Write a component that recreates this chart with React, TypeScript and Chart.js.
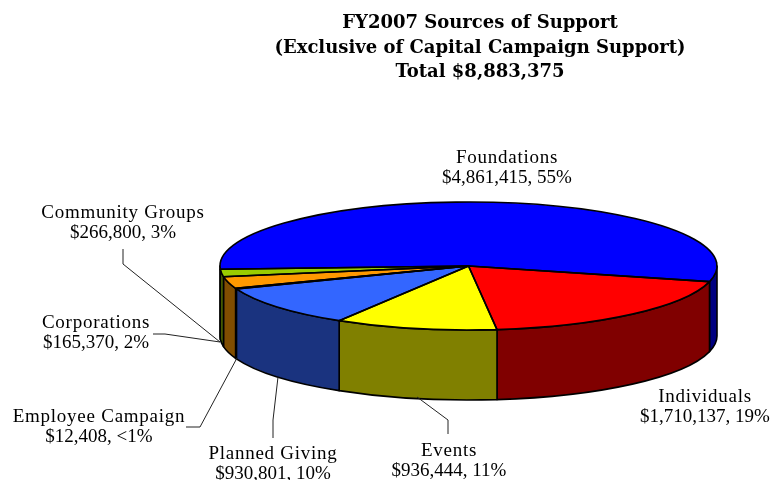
import React, { useEffect, useRef } from "react";
import { Chart, registerables } from "chart.js";

Chart.register(...registerables);

const titleLines = [
  "FY2007 Sources of Support",
  "(Exclusive of Capital Campaign Support)",
  "Total $8,883,375",
];
const categories = [
  "Foundations",
  "Individuals",
  "Events",
  "Planned Giving",
  "Employee Campaign",
  "Community Groups",
  "Corporations",
];
const amounts = [4861415, 1710137, 936444, 930801, 12408, 266800, 165370];
const percentLabels = ["55%", "19%", "11%", "10%", "<1%", "3%", "2%"];
const topColors = ["#0000ff", "#ff0000", "#ffff00", "#3366ff", "#666699", "#ff9900", "#99cc00"];
const wallColors = ["#000080", "#800000", "#808000", "#1a337f", "#33334d", "#804d00", "#4d6600"];

// Layout of the label text: centre x, baseline y of first line
const labelAnchors: [number, number][] = [
  [507, 163],
  [705, 402],
  [449, 456],
  [273, 459],
  [99, 422],
  [123, 218],
  [96, 328],
];
// Leader lines (null: no leader)
const leaders: ([number, number][] | null)[] = [
  null,
  null,
  [[417, 397], [448, 420], [448, 434]],
  [[278, 377], [273, 420], [273, 438]],
  [[237, 358], [200, 427], [186, 427]],
  [[220, 342], [123, 264], [123, 249]],
  [[220, 342], [165, 334], [153, 334]],
];

const CX = 468.5;
const CY = 266;
const RX = 248.5;
const RY = 64;
const DEPTH = 70;
const TITLE_FONT = '"DejaVu Serif", serif';
const LABEL_FONT = '"Liberation Serif", serif';

const pie3d = {
  id: "pie3d",
  beforeDatasetsDraw(chart: any) {
    const { ctx } = chart;
    const arcs = chart.getDatasetMeta(0).data;
    const sy = RY / RX;
    const norm = (a: number) => {
      const t = Math.PI * 2;
      return ((a % t) + t) % t;
    };
    const walls: { a: number; b: number; i: number }[] = [];
    arcs.forEach((arc: any, i: number) => {
      const a = norm(arc.startAngle);
      const b = a + (arc.endAngle - arc.startAngle);
      const pieces = [
        [a, b],
        [a - Math.PI * 2, b - Math.PI * 2],
      ];
      pieces.forEach(([p, q]) => {
        const s = Math.max(p, 0);
        const e = Math.min(q, Math.PI);
        if (e > s) walls.push({ a: s, b: e, i });
      });
    });
    ctx.save();
    ctx.lineJoin = "round";
    walls.forEach(({ a, b, i }) => {
      const arc = arcs[i];
      const R = arc.outerRadius;
      ctx.beginPath();
      ctx.ellipse(arc.x, arc.y, R, R * sy, 0, a, b, false);
      ctx.lineTo(arc.x + R * Math.cos(b), arc.y + R * sy * Math.sin(b) + DEPTH);
      ctx.ellipse(arc.x, arc.y + DEPTH, R, R * sy, 0, b, a, true);
      ctx.closePath();
      ctx.fillStyle = wallColors[i];
      ctx.fill();
      ctx.strokeStyle = "#000";
      ctx.lineWidth = 1.6;
      ctx.stroke();
    });
    ctx.restore();
    ctx.save();
    ctx.translate(CX, CY);
    ctx.scale(1, sy);
    ctx.translate(-CX, -CY);
  },
  afterDatasetsDraw(chart: any) {
    const { ctx } = chart;
    ctx.restore();
    const arcs = chart.getDatasetMeta(0).data;
    const sy = RY / RX;
    ctx.save();
    ctx.strokeStyle = "#000";
    ctx.lineWidth = 1.6;
    ctx.lineJoin = "round";
    arcs.forEach((arc: any) => {
      const R = arc.outerRadius;
      ctx.beginPath();
      ctx.moveTo(arc.x, arc.y);
      ctx.ellipse(arc.x, arc.y, R, R * sy, 0, arc.startAngle, arc.endAngle, false);
      ctx.closePath();
      ctx.stroke();
    });
    ctx.lineWidth = 1;
    ctx.strokeStyle = "#222";
    leaders.forEach((pts) => {
      if (!pts) return;
      ctx.beginPath();
      pts.forEach(([x, y], j) => (j ? ctx.lineTo(x, y) : ctx.moveTo(x, y)));
      ctx.stroke();
    });
    ctx.fillStyle = "#000";
    ctx.textAlign = "center";
    ctx.textBaseline = "alphabetic";
    ctx.font = `bold 18px ${TITLE_FONT}`;
    titleLines.forEach((t, i) => ctx.fillText(t, 480, 28 + i * 24.5));
    ctx.font = `19px ${LABEL_FONT}`;
    categories.forEach((c, i) => {
      const [x, y] = labelAnchors[i];
      (ctx as any).letterSpacing = "0.75px";
      ctx.fillText(c, x, y);
      (ctx as any).letterSpacing = "0px";
      ctx.fillText(`$${amounts[i].toLocaleString("en-US")}, ${percentLabels[i]}`, x, y + 20);
    });
    ctx.restore();
  },
};

export default function App() {
  const ref = useRef<HTMLCanvasElement>(null);
  useEffect(() => {
    document.body.style.margin = "0";
    const chart = new Chart(ref.current!, {
      type: "pie",
      data: {
        labels: categories,
        datasets: [
          {
            data: amounts,
            backgroundColor: topColors,
            borderWidth: 0,
            clip: false,
          } as any,
        ],
      },
      options: {
        responsive: false,
        animation: false,
        radius: RX,
        rotation: 267.1,
        layout: { padding: { left: 2 * CX - 771, top: 2 * CY - 480, right: 0, bottom: 0 } },
        plugins: { legend: { display: false }, tooltip: { enabled: false }, title: { display: false } },
      } as any,
      plugins: [pie3d],
    });
    return () => chart.destroy();
  }, []);
  return <canvas ref={ref} width={771} height={480} style={{ display: "block" }} />;
}
